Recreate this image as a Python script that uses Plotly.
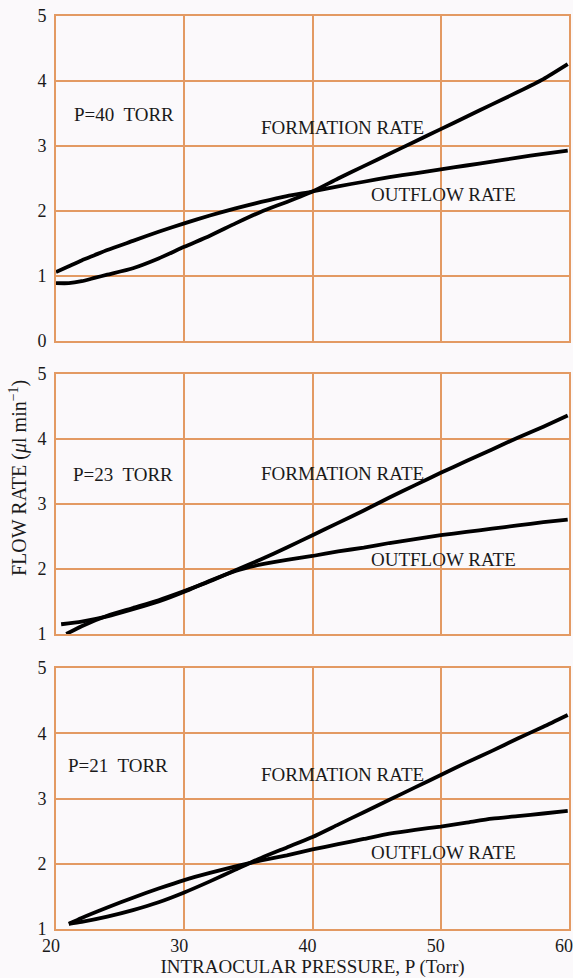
import plotly.graph_objects as go

# ---------------- data ----------------
pressure_40 = [20, 21, 22, 23, 24, 26, 28, 30, 32, 34, 36, 38, 40, 42, 44, 46, 48, 50, 52, 54, 56, 58, 59.9]
formation_40 = [0.89, 0.89, 0.92, 0.97, 1.02, 1.12, 1.27, 1.45, 1.62, 1.81, 1.99, 2.14, 2.30, 2.50, 2.69, 2.88, 3.07, 3.26, 3.45, 3.64, 3.83, 4.03, 4.26]
outflow_40 = [1.06, 1.15, 1.24, 1.32, 1.40, 1.54, 1.68, 1.81, 1.93, 2.04, 2.14, 2.23, 2.30, 2.38, 2.45, 2.52, 2.58, 2.64, 2.70, 2.76, 2.82, 2.88, 2.93]

pressure_23_f = [20.8, 22, 24, 26, 28, 30, 32, 34, 36, 38, 40, 42, 44, 46, 48, 50, 52, 54, 56, 58, 59.9]
formation_23 = [1.00, 1.12, 1.28, 1.40, 1.52, 1.66, 1.81, 1.98, 2.15, 2.33, 2.52, 2.71, 2.90, 3.10, 3.29, 3.48, 3.66, 3.84, 4.02, 4.19, 4.36]
pressure_23_o = [20.4, 22, 24, 26, 28, 30, 32, 34, 36, 38, 40, 42, 44, 46, 48, 50, 52, 54, 56, 58, 59.9]
outflow_23 = [1.15, 1.19, 1.27, 1.38, 1.50, 1.65, 1.82, 1.97, 2.07, 2.14, 2.20, 2.27, 2.33, 2.40, 2.46, 2.52, 2.57, 2.62, 2.67, 2.72, 2.76]

pressure_21 = [21, 22, 24, 26, 28, 30, 32, 34, 36, 38, 40, 42, 44, 46, 48, 50, 52, 54, 56, 58, 59.9]
formation_21 = [1.08, 1.11, 1.19, 1.29, 1.41, 1.56, 1.73, 1.91, 2.09, 2.25, 2.41, 2.60, 2.79, 2.98, 3.17, 3.36, 3.55, 3.73, 3.92, 4.10, 4.28]
outflow_21 = [1.08, 1.17, 1.33, 1.48, 1.62, 1.75, 1.86, 1.96, 2.05, 2.13, 2.22, 2.30, 2.38, 2.46, 2.52, 2.57, 2.63, 2.69, 2.73, 2.77, 2.81]

x_ticks = [20, 30, 40, 50, 60]
y_ticks_top = [0, 1, 2, 3, 4, 5]
y_ticks_low = [1, 2, 3, 4, 5]
panel_labels = ["P=40&nbsp; TORR", "P=23&nbsp; TORR", "P=21&nbsp; TORR"]

# ---------------- style ----------------
FONT = "Liberation Serif, Times New Roman, serif"
GRID = "#E39A63"
BG = "#FBF9FB"
TXT = "#1a1a1a"
H = 978
L_MARGIN, R_MARGIN = 56, 4
PLOT_W = 573 - L_MARGIN - R_MARGIN

def py(pix):
    return 1 - pix / H

fig = go.Figure()
line_style = dict(color="black", width=3.8, shape="spline", smoothing=0.6)

panels = [
    (pressure_40, formation_40, pressure_40, outflow_40, "x", "y"),
    (pressure_23_f, formation_23, pressure_23_o, outflow_23, "x2", "y2"),
    (pressure_21, formation_21, pressure_21, outflow_21, "x3", "y3"),
]
for pf, f, po, o, xa, ya in panels:
    fig.add_trace(go.Scatter(x=pf, y=f, mode="lines", line=line_style, xaxis=xa, yaxis=ya,
                             showlegend=False, name="Formation rate"))
    fig.add_trace(go.Scatter(x=po, y=o, mode="lines", line=line_style, xaxis=xa, yaxis=ya,
                             showlegend=False, name="Outflow rate"))

xcommon = dict(range=[20, 60], tickvals=x_ticks, showgrid=True,
               gridcolor=GRID, gridwidth=1.6,
               showline=True, linecolor=GRID, linewidth=1.6, mirror=True, zeroline=False,
               ticks="", tickfont=dict(family=FONT, size=18, color=TXT))
ycommon = dict(showgrid=True, gridcolor=GRID, gridwidth=1.6, showline=True, linecolor=GRID,
               linewidth=1.6, mirror=True, zeroline=False, ticks="", ticklabelstandoff=4,
               tickfont=dict(family=FONT, size=18, color=TXT))

domains = [(341, 16), (634, 374), (929, 668)]

fig.update_layout(
    width=573, height=H,
    margin=dict(l=L_MARGIN, r=R_MARGIN, t=0, b=0, autoexpand=False),
    paper_bgcolor=BG, plot_bgcolor=BG,
    xaxis=dict(**xcommon, anchor="y", showticklabels=False),
    xaxis2=dict(**xcommon, anchor="y2", showticklabels=False),
    xaxis3=dict(**xcommon, anchor="y3", showticklabels=True, ticklabelshift=-5,
                ticklabelstandoff=0, ticklabeloverflow="allow",
                title=dict(text="INTRAOCULAR PRESSURE, P (Torr)",
                           font=dict(family=FONT, size=19, color=TXT), standoff=2)),
    yaxis=dict(**ycommon, range=[0, 5], tickvals=y_ticks_top, anchor="x",
               domain=[py(domains[0][0]), py(domains[0][1])]),
    yaxis2=dict(**ycommon, range=[1, 5], tickvals=y_ticks_low, anchor="x2",
                domain=[py(domains[1][0]), py(domains[1][1])]),
    yaxis3=dict(**ycommon, range=[1, 5], tickvals=y_ticks_low, anchor="x3",
                domain=[py(domains[2][0]), py(domains[2][1])]),
)

# text labels inside panels (positions in data coordinates)
label_font = dict(family=FONT, size=19, color=TXT)
label_pos = [
    # (axes, panel label x, panel label y, formation label y, outflow label y)
    ("x", "y", 25.3, 3.48, 3.29, 2.26),
    ("x2", "y2", 25.2, 3.45, 3.47, 2.15),
    ("x3", "y3", 24.8, 3.5, 3.37, 2.17),
]
for i, (xa, ya, lx, ly, fy, oy) in enumerate(label_pos):
    fig.add_annotation(x=lx, y=ly, xref=xa, yref=ya, text=panel_labels[i], showarrow=False,
                       font=label_font)
    fig.add_annotation(x=42.3, y=fy, xref=xa, yref=ya, text="FORMATION RATE", showarrow=False,
                       font=label_font)
    fig.add_annotation(x=50.2, y=oy, xref=xa, yref=ya, text="OUTFLOW RATE", showarrow=False,
                       font=label_font)

fig.add_annotation(x=(18 - L_MARGIN) / PLOT_W, y=py(478), xref="paper", yref="paper",
                   xanchor="center", yanchor="middle",
                   text="FLOW RATE (<i>μ</i>l min<sup>−1</sup>)", textangle=-90,
                   showarrow=False, font=dict(family=FONT, size=20, color=TXT))

fig.write_html("out.html", config={"displayModeBar": False},
               post_script="document.body.style.margin='0';")
